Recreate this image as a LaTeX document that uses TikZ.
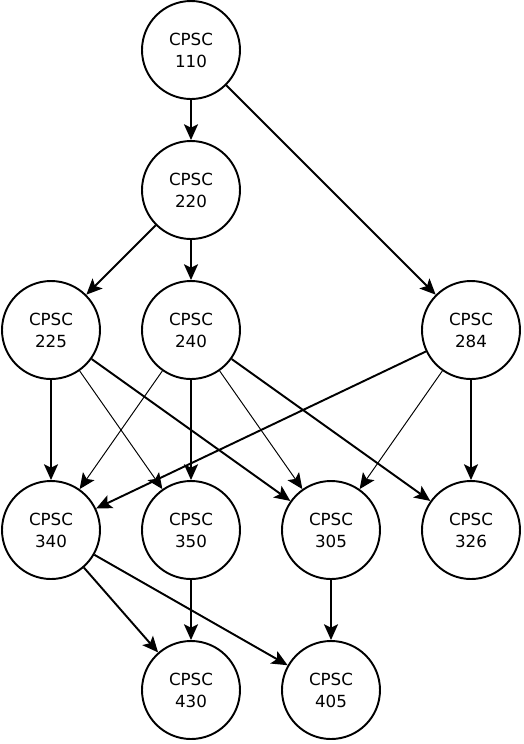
\documentclass[tikz,border=0pt]{standalone}
\usepackage{fontspec}
\setmainfont{DejaVu Sans}
\usetikzlibrary{arrows.meta}

\begin{document}
\begin{tikzpicture}[
  course/.style={draw, circle, line width=1.1pt, minimum size=1.96cm, inner sep=0pt,
    align=center, font=\fontsize{9.5}{12.5}\selectfont},
  req/.style={-{Stealth[length=9pt,width=8pt,inset=2pt]}, line width=1.1pt},
  weak/.style={-{Stealth[length=9pt,width=8pt,inset=2pt]}, line width=0.55pt}]

\useasboundingbox (0,0) rectangle (10.48,-14.88);

\node[course] (c110) at (3.82,-1.0) {CPSC\\110};
\node[course] (c220) at (3.82,-3.8) {CPSC\\220};

\node[course] (c225) at (1.02,-6.6) {CPSC\\225};
\node[course] (c240) at (3.82,-6.6) {CPSC\\240};
\node[course] (c284) at (9.42,-6.6) {CPSC\\284};

\node[course] (c340) at (1.02,-10.6) {CPSC\\340};
\node[course] (c350) at (3.82,-10.6) {CPSC\\350};
\node[course] (c305) at (6.62,-10.6) {CPSC\\305};
\node[course] (c326) at (9.42,-10.6) {CPSC\\326};

\node[course] (c430) at (3.82,-13.8) {CPSC\\430};
\node[course] (c405) at (6.62,-13.8) {CPSC\\405};

\draw[req] (c110) -- (c220);
\draw[req] (c110) -- (c284);
\draw[req] (c220) -- (c225);
\draw[req] (c220) -- (c240);

\draw[req] (c225) -- (c340);
\draw[weak] (c225) -- (c350);
\draw[req] (c225) -- (c305);
\draw[weak] (c240) -- (c340);
\draw[req] (c240) -- (c350);
\draw[weak] (c240) -- (c305);
\draw[req] (c240) -- (c326);
\draw[req] (c284) -- (c340);
\draw[weak] (c284) -- (c305);
\draw[req] (c284) -- (c326);

\draw[req] (c340) -- (c430);
\draw[req] (c340) -- (c405);
\draw[req] (c350) -- (c430);
\draw[req] (c305) -- (c405);

\end{tikzpicture}
\end{document}
